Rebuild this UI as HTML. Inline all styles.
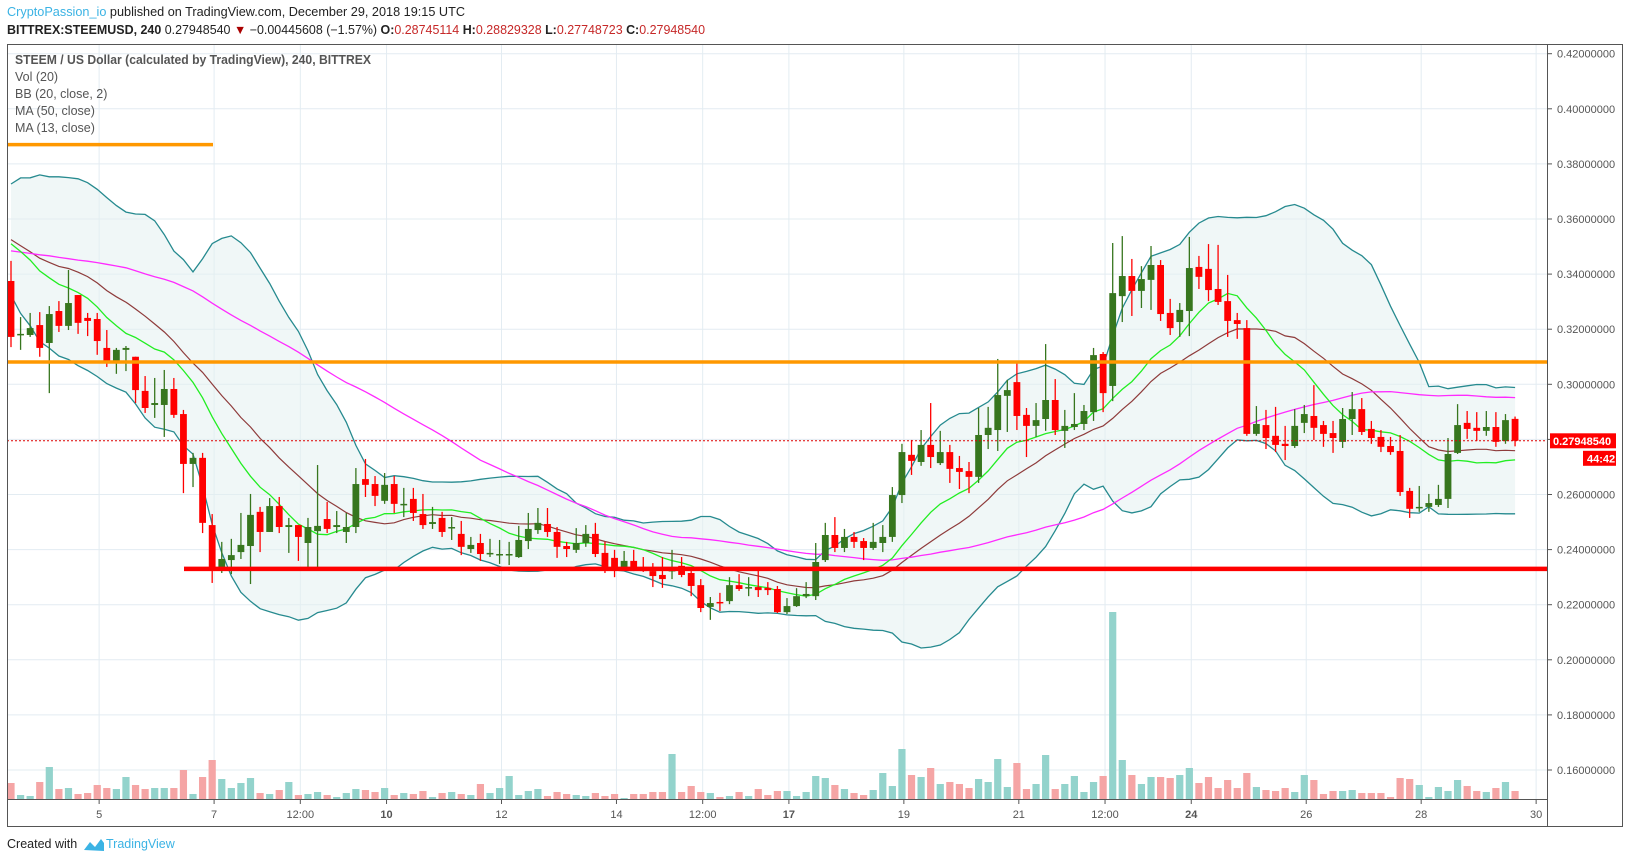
<!DOCTYPE html>
<html><head><meta charset="utf-8"><style>
html,body{margin:0;padding:0;background:#fff;}
svg{display:block;font-family:"Liberation Sans",sans-serif;}
</style></head><body>
<svg id="chart" width="1627" height="860" viewBox="0 0 1627 860" xmlns="http://www.w3.org/2000/svg">
<rect x="0" y="0" width="1627" height="860" fill="#fff"/>
<text x="7" y="16" font-size="12.5" textLength="458" lengthAdjust="spacingAndGlyphs"><tspan fill="#3bb3e4">CryptoPassion_io</tspan><tspan fill="#222"> published on TradingView.com, December 29, 2018 19:15 UTC</tspan></text>
<text x="7" y="34" font-size="12.5" textLength="698" lengthAdjust="spacingAndGlyphs"><tspan font-weight="bold" fill="#222">BITTREX:STEEMUSD, 240</tspan><tspan fill="#222"> 0.27948540 </tspan><tspan fill="#a00">▼</tspan><tspan fill="#222"> −0.00445608 (−1.57%) </tspan><tspan font-weight="bold" fill="#222">O:</tspan><tspan fill="#c62828">0.28745114 </tspan><tspan font-weight="bold" fill="#222">H:</tspan><tspan fill="#c62828">0.28829328 </tspan><tspan font-weight="bold" fill="#222">L:</tspan><tspan fill="#c62828">0.27748723 </tspan><tspan font-weight="bold" fill="#222">C:</tspan><tspan fill="#c62828">0.27948540</tspan></text>
<g id="grid"></g>
<g id="vol"></g>
<g id="bb"></g>
<g id="lines"></g>
<g id="candles"></g>
<g id="drawn"></g>
<g id="axes"></g>
<g font-size="12.5" fill="#555">
<text x="15" y="64" font-weight="bold" textLength="356" lengthAdjust="spacingAndGlyphs">STEEM / US Dollar (calculated by TradingView), 240, BITTREX</text>
<text x="15" y="81">Vol (20)</text>
<text x="15" y="98">BB (20, close, 2)</text>
<text x="15" y="115">MA (50, close)</text>
<text x="15" y="132">MA (13, close)</text>
</g>
<g>
<text x="7" y="848" font-size="12.5" fill="#222">Created with</text>
<path d="M84 850 L90 842 L95 847 L101 839 L104 843 L104 851 Z" fill="#3bb3e4"/>
<text x="106" y="848" font-size="12.5" fill="#3bb3e4">TradingView</text>
</g>
</svg>
<script>
const priorCloses=[.340,.343,.338,.345,.350,.352,.348,.344,.341,.339,.342,.347,.351,.349,.346,.343,.345,.348,.352,.355,.350,.346,.342,.340,.344,.347,.349,.345,.343,.346,.362,.365,.360,.356,.350,.345,.349,.355,.361,.364,.358,.352,.347,.344,.350,.356,.358,.352,.349];
const opens=[.3375,.3183,.3179,.3215,.3150,.3266,.3212,.3324,.3241,.3237,.3132,.3081,.3125,.3100,.2976,.2925,.2925,.2983,.2892,.2711,.2733,.2489,.2326,.2362,.2391,.2413,.2537,.2464,.2558,.2482,.2489,.2424,.2467,.2511,.2482,.2464,.2482,.2656,.2638,.2577,.2638,.2566,.2584,.2529,.2493,.2515,.2478,.2457,.2402,.2424,.2388,.2384,.2384,.2373,.2431,.2471,.2493,.2464,.2413,.2399,.2424,.2457,.2388,.2370,.2330,.2359,.2337,.2322,.2308,.2322,.2341,.2315,.2271,.2192,.2210,.2213,.2271,.2261,.2264,.2261,.2257,.2173,.2195,.2231,.2231,.2362,.2453,.2406,.2446,.2431,.2406,.2424,.2446,.2598,.2744,.2718,.2780,.2714,.2754,.2696,.2685,.2664,.2816,.2834,.2958,.3008,.2889,.2849,.2874,.2943,.2831,.2845,.2856,.2899,.3110,.2994,.3320,.3393,.3339,.3379,.3433,.3259,.3226,.3266,.3426,.3419,.3346,.3302,.3233,.3204,.2820,.2852,.2813,.2784,.2776,.2860,.2885,.2852,.2823,.2791,.2874,.2910,.2838,.2809,.2776,.2758,.2613,.2551,.2555,.2562,.2584,.2751,.2860,.2842,.2831,.2845,.2794,.28745];
const closes=[.3172,.3183,.3204,.3132,.3255,.3212,.3295,.3223,.3230,.3157,.3081,.3125,.3132,.2979,.2914,.2932,.2983,.2889,.2711,.2733,.2497,.2333,.2366,.2380,.2417,.2526,.2464,.2558,.2482,.2489,.2446,.2482,.2486,.2475,.2489,.2482,.2638,.2635,.2595,.2635,.2566,.2566,.2533,.2489,.2500,.2464,.2482,.2410,.2417,.2384,.2388,.2384,.2384,.2435,.2475,.2497,.2464,.2410,.2402,.2424,.2457,.2384,.2337,.2333,.2359,.2330,.2322,.2304,.2293,.2326,.2308,.2268,.2188,.2206,.2206,.2271,.2257,.2264,.2253,.2253,.2173,.2195,.2231,.2239,.2355,.2453,.2406,.2446,.2428,.2406,.2428,.2446,.2598,.2754,.2722,.2780,.2736,.2754,.2693,.2682,.2664,.2816,.2842,.2961,.2979,.2885,.2849,.2870,.2943,.2834,.2849,.2856,.2903,.3106,.2968,.3331,.3393,.3339,.3382,.3433,.3255,.3204,.3270,.3422,.3390,.3342,.3299,.3230,.3219,.2820,.2856,.2805,.2780,.2776,.2849,.2892,.2842,.2820,.2805,.2874,.2910,.2827,.2805,.2773,.2754,.2609,.2548,.2555,.2569,.2584,.2747,.2852,.2838,.2831,.2845,.2791,.2870,.27949];
const highs=[.3448,.3244,.3259,.3262,.3284,.3302,.3415,.3324,.3259,.3259,.3197,.3132,.3139,.3100,.3030,.3023,.3052,.3023,.2907,.2751,.2751,.2529,.2428,.2439,.2533,.2602,.2555,.2587,.2591,.2515,.2489,.2515,.2707,.2573,.2540,.2533,.2696,.2729,.2667,.2678,.2667,.2624,.2624,.2602,.2555,.2537,.2518,.2504,.2446,.2457,.2439,.2435,.2428,.2486,.2533,.2551,.2551,.2482,.2428,.2478,.2489,.2497,.2428,.2399,.2395,.2399,.2373,.2351,.2373,.2399,.2373,.2330,.2293,.2228,.2243,.2300,.2311,.2300,.2326,.2282,.2268,.2224,.2260,.2282,.2424,.2497,.2518,.2475,.2464,.2442,.2497,.2489,.2627,.2784,.2798,.2834,.2932,.2831,.2780,.2740,.2718,.2914,.2918,.3092,.3016,.3085,.2914,.2932,.3146,.3019,.2907,.2968,.2925,.3132,.3117,.3513,.3538,.3455,.3429,.3502,.3451,.3310,.3295,.3535,.3466,.3509,.3506,.3397,.3259,.3233,.2921,.2907,.2918,.2849,.2910,.2925,.2997,.2867,.2867,.2914,.2972,.2950,.2867,.2834,.2809,.2816,.2624,.2631,.2602,.2635,.2805,.2928,.2903,.2899,.2903,.2899,.2892,.28829];
const lows=[.3135,.3125,.3172,.3100,.2968,.3190,.3197,.3183,.3175,.3107,.3063,.3038,.3048,.2932,.2896,.2878,.2809,.2878,.2605,.2627,.2460,.2279,.2315,.2311,.2366,.2275,.2391,.2464,.2460,.2388,.2359,.2333,.2333,.2460,.2460,.2424,.2460,.2591,.2558,.2566,.2533,.2518,.2504,.2475,.2475,.2446,.2435,.2380,.2388,.2359,.2373,.2348,.2344,.2370,.2402,.2457,.2446,.2370,.2373,.2388,.2410,.2373,.2315,.2300,.2326,.2322,.2319,.2264,.2261,.2293,.2300,.2231,.2173,.2145,.2177,.2202,.2250,.2231,.2228,.2235,.2170,.2166,.2192,.2224,.2217,.2355,.2391,.2391,.2406,.2362,.2399,.2391,.2428,.2569,.2671,.2704,.2696,.2707,.2642,.2620,.2605,.2642,.2765,.2758,.2827,.2834,.2736,.2809,.2831,.2816,.2769,.2834,.2834,.2867,.2899,.2939,.3226,.3248,.3277,.3270,.3230,.3179,.3172,.3175,.3346,.3302,.3288,.3172,.3165,.2813,.2813,.2765,.2754,.2725,.2769,.2823,.2798,.2773,.2751,.2769,.2816,.2816,.2784,.2754,.2744,.2595,.2515,.2537,.2537,.2555,.2551,.2747,.2802,.2794,.2813,.2773,.2784,.27749];
const volumes=[16,4,3,17,32,10,11,5,6,14,11,10,22,14,10,11,11,11,29,5,22,39,20,11,16,21,6,5,9,17,4,5,7,4,2,6,10,9,7,11,4,6,5,8,2,6,7,5,4,15,6,11,23,4,8,10,3,7,5,4,3,6,3,5,1,5,5,7,7,45,7,13,7,6,2,3,7,3,10,4,8,8,3,7,23,21,14,10,6,4,9,26,13,50,24,22,31,15,17,15,11,20,17,40,12,36,10,15,44,10,15,23,7,17,23,187,39,24,15,22,22,21,24,31,16,22,11,19,11,26,12,9,8,11,7,24,19,5,8,8,9,6,6,6,2,21,20,14,2,12,8,19,13,8,7,11,17,8];
const priceTicks=[0.42,0.40,0.38,0.36,0.34,0.32,0.30,0.28,0.26,0.24,0.22,0.20,0.18,0.16];
const timeLabels=["5","7","12:00","10","12","14","12:00","17","19","21","12:00","24","26","28","30"];
const timeLabelIdx=[9.2,21.2,30.2,39.2,51.2,63.2,72.2,81.2,93.2,105.2,114.2,123.2,135.2,147.2,159.2];
const resistancePrice=0.3081;
const oldResistancePrice=0.3870;
const supportPrice=0.2330;
const lastTime="44:42";

const NS="http://www.w3.org/2000/svg";
const PL=7,PR=1547,PT=44,PB=799;
function x(i){return 11+i*9.58;}
function y(p){return 384.3+(0.30-p)/0.02*55.1;}
function vh(v){return v*1.0;}
function mk(tag,attrs,parent){const e=document.createElementNS(NS,tag);for(const k in attrs)e.setAttribute(k,attrs[k]);parent.appendChild(e);return e;}
const G=id=>document.getElementById(id);

// grid
const grid=G('grid');
priceTicks.forEach(p=>{const l=mk('line',{x1:PL,x2:PR,y1:y(p),y2:y(p),stroke:'#e3ecf2','stroke-width':1},grid);

});
timeLabelIdx.forEach(t=>{const l=mk('line',{x1:x(t),x2:x(t),y1:PT,y2:PB,stroke:'#e3ecf2','stroke-width':1},grid);

});

// volume
const vol=G('vol');
volumes.forEach((v,i)=>{const up=closes[i]>=opens[i];const h=vh(v);
const r=mk('rect',{x:x(i)-3.6,y:PB-h,width:7.2,height:h,fill:up?'#93d3cc':'#f5a5a5'},vol);

});

// indicators
const all=priorCloses.concat(closes);const off=priorCloses.length;
function sma(n,i){let s=0,c=0;for(let k=i-n+1;k<=i;k++){if(k>=0){s+=all[k];c++;}}return s/c;}
function sd(n,i,m){let s=0,c=0;for(let k=i-n+1;k<=i;k++){if(k>=0){s+=(all[k]-m)*(all[k]-m);c++;}}return Math.sqrt(s/c);}
const up=[],lo=[],mid=[],m13=[],m50=[];
closes.forEach((c,i)=>{const j=i+off;const m=sma(20,j);const s=sd(20,j,m);mid.push(m);up.push(m+2*s);lo.push(m-2*s);m13.push(sma(13,j));m50.push(sma(50,j));});
function pts(a){return a.map((p,i)=>x(i).toFixed(1)+','+y(p).toFixed(1)).join(' ');}
const bb=G('bb');
const fill=mk('polygon',{points:pts(up)+' '+lo.map((p,i)=>[i,p]).reverse().map(([i,p])=>x(i).toFixed(1)+','+y(p).toFixed(1)).join(' '),fill:'#e4f1f1','fill-opacity':0.55},bb);


const bu=mk('polyline',{points:pts(up),fill:'none',stroke:'#268a8f','stroke-width':1.3},bb);


const bl=mk('polyline',{points:pts(lo),fill:'none',stroke:'#268a8f','stroke-width':1.3},bb);


const ln=G('lines');
const bm=mk('polyline',{points:pts(mid),fill:'none',stroke:'#8e3b3b','stroke-width':1.2},ln);


const l50=mk('polyline',{points:pts(m50),fill:'none',stroke:'#ff2bff','stroke-width':1.3},ln);


const l13=mk('polyline',{points:pts(m13),fill:'none',stroke:'#22ee22','stroke-width':1.3},ln);



// candles
const cg=G('candles');
closes.forEach((c,i)=>{const o=opens[i];const isUp=c>=o;const col=isUp?'#37761e':'#ff0000';
const w=mk('line',{x1:x(i),x2:x(i),y1:y(highs[i]),y2:y(lows[i]),stroke:col,'stroke-width':1.3},cg);


const t=Math.min(y(o),y(c));const h=Math.max(1.5,Math.abs(y(o)-y(c)));
const b=mk('rect',{x:x(i)-3.4,y:t,width:6.8,height:h,fill:col},cg);

});

// drawn lines
const dr=G('drawn');
const rl=mk('line',{x1:PL,x2:PR,y1:y(resistancePrice),y2:y(resistancePrice),stroke:'#ff9800','stroke-width':3.5},dr);


const orl=mk('line',{x1:PL,x2:213,y1:y(oldResistancePrice),y2:y(oldResistancePrice),stroke:'#ff9800','stroke-width':3.5},dr);


const sl=mk('line',{x1:184,x2:PR,y1:y(supportPrice),y2:y(supportPrice),stroke:'#ff0000','stroke-width':4.5},dr);


const last=closes[closes.length-1];
const lp=mk('line',{x1:PL,x2:PR,y1:y(last),y2:y(last),stroke:'#d00','stroke-width':1,'stroke-dasharray':'2,2'},dr);



// axes
const ax=G('axes');
const fr=mk('rect',{x:7.5,y:44.5,width:1615,height:782,fill:'none',stroke:'#555','stroke-width':1},ax);


const va=mk('line',{x1:PR+0.5,x2:PR+0.5,y1:44,y2:827,stroke:'#555','stroke-width':1},ax);


const ha=mk('line',{x1:7,x2:PR,y1:PB+0.5,y2:PB+0.5,stroke:'#555','stroke-width':1},ax);


priceTicks.forEach(p=>{const tk=mk('line',{x1:PR,x2:PR+5,y1:y(p),y2:y(p),stroke:'#555'},ax);


const t=mk('text',{x:1557,y:y(p)+4,'font-size':11,fill:'#555'},ax);t.textContent=p.toFixed(8);

});
timeLabels.forEach((s,k)=>{const tx=x(timeLabelIdx[k]);
const tk=mk('line',{x1:tx,x2:tx,y1:PB,y2:PB+5,stroke:'#555'},ax);


const t=mk('text',{x:tx,y:818,'font-size':11,fill:'#555','text-anchor':'middle','font-weight':(s==='10'||s==='17'||s==='24')?'bold':'normal'},ax);t.textContent=s;

});
const lb=mk('rect',{x:1550,y:y(last)-7.5,width:66,height:15,fill:'#ff0000'},ax);


const lt=mk('text',{x:1553,y:y(last)+4,'font-size':11,'font-weight':'bold',fill:'#fff'},ax);lt.textContent=last.toFixed(8).replace(/0+$/,'')+'540'.slice(0,0);
lt.textContent='0.27948540';


const cb=mk('rect',{x:1583,y:y(last)+10,width:33,height:15,fill:'#ff0000'},ax);


const ct=mk('text',{x:1587,y:y(last)+21.5,'font-size':11,'font-weight':'bold',fill:'#fff'},ax);ct.textContent=lastTime;


</script>
</body></html>
